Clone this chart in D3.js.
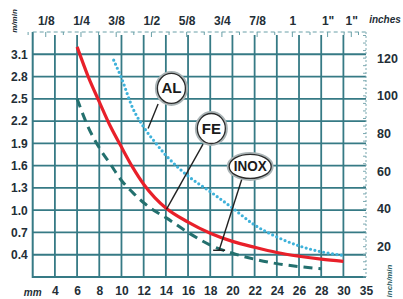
<!DOCTYPE html>
<html>
<head>
<meta charset="utf-8">
<script src="https://cdn.jsdelivr.net/npm/d3@7"></script>
<style>
  body { margin: 0; background: #fff; }
  svg { display: block; font-family: "Liberation Sans", Arial, sans-serif; }
</style>
</head>
<body>
<svg id="chart" width="403" height="299"></svg>
<script>
// bottom axis (mm), top axis (inches), left axis (m/min), right axis (inch/min)
const mmTicks = [4, 6, 8, 10, 12, 14, 16, 18, 20, 22, 24, 26, 28, 30, 35];
const inchTicks = [0.125, 0.25, 0.375, 0.5, 0.625, 0.75, 0.875, 1, 1.125, 1.25];
const inchLabels = ["1/8", "1/4", "3/8", "1/2", "5/8", "3/4", "7/8", "1", "1\"", "1\""];
const speedTicks = [0.4, 0.7, 1.0, 1.3, 1.6, 1.9, 2.2, 2.5, 2.8, 3.1];
const inMinTicks = [20, 40, 60, 80, 100, 120];

// curves: [thickness mm, speed m/min]
const feData = [[6, 3.2], [7, 2.8], [8, 2.46], [9, 2.13], [10, 1.85], [11, 1.58], [12, 1.35],
  [13, 1.17], [14, 1.03], [16, 0.84], [18, 0.69], [20, 0.58], [22, 0.5], [24, 0.43],
  [26, 0.38], [28, 0.34], [30, 0.31]];
const alData = [[9.3, 3.02], [10, 2.78], [11, 2.38], [12, 2.12], [13, 1.92], [14, 1.74],
  [16, 1.46], [18, 1.25], [20, 1.03], [22, 0.8], [24, 0.64], [26, 0.52], [28, 0.44], [30, 0.39]];
const inoxData = [[6, 2.5], [7, 2.12], [8, 1.84], [9, 1.62], [10, 1.4], [11, 1.24], [12, 1.1],
  [13, 0.99], [14, 0.9], [16, 0.7], [18, 0.53], [20, 0.42], [22, 0.34], [24, 0.28],
  [26, 0.24], [28, 0.21]];

const svg = d3.select("#chart");
const pLeft = 32.7, pRight = 366, pTop = 32, pBottom = 277;

const x = d3.scaleLinear().domain([2, 30, 35]).range([pLeft, 343.4, pRight]);
const y = d3.scaleLinear().domain([0.1, 3.4]).range([pBottom, pTop]);
const yIn = d3.scaleLinear().domain([0.1 / 0.0254, 3.4 / 0.0254]).range([pBottom, pTop]);

const gridColor = "#367a85";
const textColor = "#232e36";

// grid
svg.append("g")
  .selectAll("line")
  .data(mmTicks.filter(d => d <= 30))
  .join("line")
  .attr("x1", d => x(d)).attr("x2", d => x(d))
  .attr("y1", pTop + 3).attr("y2", pBottom)
  .attr("stroke", gridColor).attr("stroke-width", 1.8);

svg.append("g")
  .selectAll("line")
  .data(speedTicks)
  .join("line")
  .attr("x1", pLeft).attr("x2", pRight)
  .attr("y1", d => y(d)).attr("y2", d => y(d))
  .attr("stroke", gridColor).attr("stroke-width", 1.8);

// frame: left + bottom solid
svg.append("path")
  .attr("d", `M${pLeft},${pTop}V${pBottom}H${pRight}`)
  .attr("fill", "none").attr("stroke", gridColor).attr("stroke-width", 2);

// top ruler (dashed with small ticks)
svg.append("line")
  .attr("x1", pLeft).attr("x2", pRight).attr("y1", pTop).attr("y2", pTop)
  .attr("stroke", "#6aa0a8").attr("stroke-width", 1).attr("stroke-dasharray", "4,3");
svg.append("g")
  .selectAll("line")
  .data(d3.range(1, 22).map(i => i / 16))
  .join("line")
  .attr("x1", d => x(d * 25.4)).attr("x2", d => x(d * 25.4))
  .attr("y1", pTop).attr("y2", (d, i) => pTop + (i % 2 ? 5 : 3))
  .attr("stroke", "#6aa0a8").attr("stroke-width", 1);

// right ruler (dotted with small ticks)
svg.append("line")
  .attr("x1", pRight).attr("x2", pRight).attr("y1", pTop).attr("y2", pBottom)
  .attr("stroke", "#7aa8b0").attr("stroke-width", 1).attr("stroke-dasharray", "2,2");
svg.append("g")
  .selectAll("line")
  .data(d3.range(4, 134, 4))
  .join("line")
  .attr("x1", pRight - 3).attr("x2", pRight)
  .attr("y1", d => yIn(d)).attr("y2", d => yIn(d))
  .attr("stroke", "#7aa8b0").attr("stroke-width", 1);

// axes labels
function styleAxis(size) {
  return g => {
    g.select(".domain").remove();
    g.selectAll(".tick line").remove();
    g.selectAll("text")
      .attr("fill", textColor)
      .style("font-weight", "bold")
      .style("font-size", size + "px");
  };
}

svg.append("g")
  .attr("transform", `translate(0,${pBottom})`)
  .call(d3.axisBottom(x).tickValues(mmTicks).tickSize(0).tickPadding(9).tickFormat(d3.format("d")))
  .call(styleAxis(12));

svg.append("g")
  .attr("transform", `translate(0,${pTop})`)
  .call(d3.axisTop(x).tickValues(inchTicks.map(d => d * 25.4)).tickSize(0).tickPadding(7)
    .tickFormat((d, i) => inchLabels[i]))
  .call(styleAxis(12));

svg.append("g")
  .attr("transform", `translate(${pLeft},0)`)
  .call(d3.axisLeft(y).tickValues(speedTicks).tickSize(0).tickPadding(5).tickFormat(d3.format(".1f")))
  .call(styleAxis(12));

svg.append("g")
  .attr("transform", `translate(${pRight},0)`)
  .call(d3.axisRight(yIn).tickValues(inMinTicks).tickSize(0).tickPadding(11))
  .call(styleAxis(12.5));

// unit labels
svg.append("text")
  .attr("x", x(2)).attr("y", pBottom + 19)
  .attr("text-anchor", "middle")
  .attr("fill", textColor).style("font-weight", "bold").style("font-style", "italic")
  .style("font-size", "10px").text("mm");

svg.append("text")
  .attr("x", 385).attr("y", pTop - 9)
  .attr("text-anchor", "middle")
  .attr("fill", textColor).style("font-weight", "bold").style("font-style", "italic")
  .style("font-size", "10px").text("inches");

svg.append("text")
  .attr("transform", `translate(17,21) rotate(-90)`)
  .attr("text-anchor", "middle")
  .attr("fill", textColor).style("font-weight", "bold").style("font-style", "italic")
  .style("font-size", "8px").text("m/min");

svg.append("text")
  .attr("transform", `translate(392,281) rotate(-90)`)
  .attr("text-anchor", "middle")
  .attr("fill", "#2f5f66").style("font-weight", "bold").style("font-style", "italic")
  .style("font-size", "8px").text("inch/min");

// curves
const line = d3.line().x(d => x(d[0])).y(d => y(d[1])).curve(d3.curveMonotoneX);

svg.append("path").datum(alData)
  .attr("d", line).attr("fill", "none")
  .attr("stroke", "#3fb2da").attr("stroke-width", 3.2)
  .attr("stroke-linecap", "round").attr("stroke-dasharray", "0,4.5");

svg.append("path").datum(inoxData)
  .attr("d", line).attr("fill", "none")
  .attr("stroke", "#23706e").attr("stroke-width", 3)
  .attr("stroke-dasharray", "9,6");

svg.append("path").datum(feData)
  .attr("d", line).attr("fill", "none")
  .attr("stroke", "#e8202a").attr("stroke-width", 3.2);

// callouts
const callouts = [
  { name: "AL", c: [14.5, 2.64], rx: 14, ry: 15, from: [13.3, 2.43], to: [12.4, 2.1], foot: false },
  { name: "FE", c: [18.1, 2.1], rx: 14, ry: 15, from: [17.35, 1.89], to: [14.05, 1.01], foot: false },
  { name: "INOX", c: [21.6, 1.59], rx: 21, ry: 12, from: [20.85, 1.42], to: [18.8, 0.46], foot: true }
];

const cg = svg.append("g");
callouts.forEach(d => {
  cg.append("line")
    .attr("x1", x(d.from[0])).attr("y1", y(d.from[1]))
    .attr("x2", x(d.to[0])).attr("y2", y(d.to[1]))
    .attr("stroke", "#222").attr("stroke-width", 1.4);
  if (d.foot) {
    cg.append("line")
      .attr("x1", x(d.to[0]) - 6).attr("x2", x(d.to[0]) + 6)
      .attr("y1", y(d.to[1])).attr("y2", y(d.to[1]))
      .attr("stroke", "#222").attr("stroke-width", 1.4);
  }
  cg.append("ellipse")
    .attr("cx", x(d.c[0])).attr("cy", y(d.c[1]))
    .attr("rx", d.rx + 1).attr("ry", d.ry + 1)
    .attr("fill", "#fff").attr("stroke", "#aab4b6").attr("stroke-width", 3);
  cg.append("ellipse")
    .attr("cx", x(d.c[0])).attr("cy", y(d.c[1]))
    .attr("rx", d.rx).attr("ry", d.ry)
    .attr("fill", "#fff").attr("stroke", "#2b2b2b").attr("stroke-width", 1.3);
  cg.append("text")
    .attr("x", x(d.c[0])).attr("y", y(d.c[1]) + 5)
    .attr("text-anchor", "middle")
    .attr("fill", "#1a1a1a").style("font-weight", "bold")
    .style("font-size", d.name === "INOX" ? "14px" : "15px")
    .attr("textLength", d.name === "INOX" ? 33 : null)
    .attr("lengthAdjust", "spacingAndGlyphs")
    .text(d.name);
});
</script>
</body>
</html>
